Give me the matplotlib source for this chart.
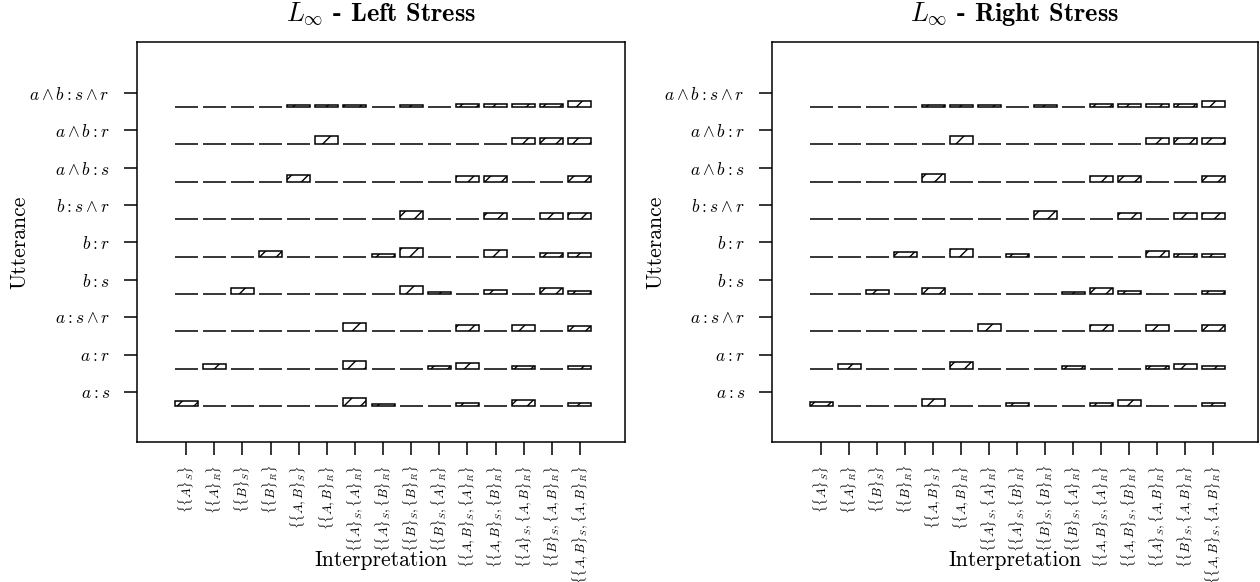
import matplotlib.pyplot as plt
import numpy as np

plt.rcParams['font.family'] = 'cmr10'
plt.rcParams['mathtext.fontset'] = 'cm'
plt.rcParams['axes.formatter.use_mathtext'] = True
plt.rcParams['hatch.linewidth'] = 1.0

# rows bottom to top
utterances = [r'$a:s$', r'$a:r$', r'$a:s\wedge r$',
              r'$b:s$', r'$b:r$', r'$b:s\wedge r$',
              r'$a\wedge b:s$', r'$a\wedge b:r$', r'$a\wedge b:s\wedge r$']

interpretations = [r'$\{\{A\}_S\}$', r'$\{\{A\}_R\}$', r'$\{\{B\}_S\}$', r'$\{\{B\}_R\}$',
                   r'$\{\{A,B\}_S\}$', r'$\{\{A,B\}_R\}$',
                   r'$\{\{A\}_S,\{A\}_R\}$', r'$\{\{A\}_S,\{B\}_R\}$',
                   r'$\{\{B\}_S,\{B\}_R\}$', r'$\{\{B\}_S,\{A\}_R\}$',
                   r'$\{\{A,B\}_S,\{A\}_R\}$', r'$\{\{A,B\}_S,\{B\}_R\}$',
                   r'$\{\{A\}_S,\{A,B\}_R\}$', r'$\{\{B\}_S,\{A,B\}_R\}$',
                   r'$\{\{A,B\}_S,\{A,B\}_R\}$']

# P(interpretation | utterance), one list per utterance
left_stress = [
    [0.19, 0, 0, 0, 0, 0, 0.28, 0.08, 0, 0, 0.12, 0, 0.21, 0, 0.12],
    [0, 0.16, 0, 0, 0, 0, 0.27, 0, 0, 0.08, 0.19, 0, 0.10, 0, 0.09],
    [0, 0, 0, 0, 0, 0, 0.30, 0, 0, 0, 0.22, 0, 0.22, 0, 0.20],
    [0, 0, 0.19, 0, 0, 0, 0, 0, 0.28, 0.08, 0, 0.13, 0, 0.20, 0.10],
    [0, 0, 0, 0.20, 0, 0, 0, 0.09, 0.30, 0, 0, 0.22, 0, 0.12, 0.12],
    [0, 0, 0, 0, 0, 0, 0, 0, 0.30, 0, 0, 0.21, 0, 0.21, 0.21],
    [0, 0, 0, 0, 0.25, 0, 0, 0, 0, 0, 0.21, 0.21, 0, 0, 0.21],
    [0, 0, 0, 0, 0, 0.30, 0, 0, 0, 0, 0, 0, 0.23, 0.23, 0.23],
    [0, 0, 0, 0, 0.08, 0.08, 0.08, 0, 0.08, 0, 0.10, 0.10, 0.10, 0.10, 0.21],
]

right_stress = [
    [0.14, 0, 0, 0, 0.23, 0, 0, 0.10, 0, 0, 0.12, 0.20, 0, 0, 0.12],
    [0, 0.15, 0, 0, 0, 0.23, 0, 0, 0, 0.08, 0, 0, 0.10, 0.15, 0.10],
    [0, 0, 0, 0, 0, 0, 0.26, 0, 0, 0, 0.21, 0, 0.21, 0, 0.21],
    [0, 0, 0.14, 0, 0.22, 0, 0, 0, 0, 0.08, 0.20, 0.10, 0, 0, 0.10],
    [0, 0, 0, 0.16, 0, 0.26, 0, 0.08, 0, 0, 0, 0, 0.19, 0.10, 0.10],
    [0, 0, 0, 0, 0, 0, 0, 0, 0.30, 0, 0, 0.20, 0, 0.20, 0.20],
    [0, 0, 0, 0, 0.26, 0, 0, 0, 0, 0, 0.21, 0.21, 0, 0, 0.21],
    [0, 0, 0, 0, 0, 0.30, 0, 0, 0, 0, 0, 0, 0.22, 0.22, 0.22],
    [0, 0, 0, 0, 0.08, 0.08, 0.08, 0, 0.08, 0, 0.10, 0.10, 0.10, 0.09, 0.21],
]


def draw_panel(ax, probs, title):
    probs = np.array(probs)
    xs = np.arange(1, len(interpretations) + 1)
    for i, row in enumerate(probs):
        # each row's bars sit a bit under its tick
        ax.bar(xs, row * 0.775, width=0.82, bottom=i + 1 - 0.38,
               facecolor='white', edgecolor='black', hatch='//', linewidth=1.1)

    ax.set_xlim(-0.75, 16.6)
    ax.set_ylim(-0.34, 10.36)
    ax.set_xticks(xs)
    ax.set_xticklabels(interpretations, rotation=90, fontsize=9.4)
    ax.set_yticks(np.arange(1, len(utterances) + 1))
    ax.set_yticklabels(utterances, fontsize=12.5)
    ax.tick_params(axis='x', direction='out', length=9.5, width=1.1, pad=7)
    ax.tick_params(axis='y', direction='out', length=9.5, width=1.1, pad=10)
    for s in ax.spines.values():
        s.set_linewidth(1.1)

    ax.text(0.5, 1.07, title, transform=ax.transAxes, ha='center', va='center',
            fontsize=19, fontfamily='cmb10')
    ax.text(-0.24, 0.5, 'Utterance', transform=ax.transAxes, rotation=90,
            ha='center', va='center', fontsize=15.5)
    ax.text(0.5, -0.295, 'Interpretation', transform=ax.transAxes,
            ha='center', va='center', fontsize=15.5)


fig = plt.figure(figsize=(12.6, 5.82), dpi=100)
ax1 = fig.add_axes([0.1087, 0.2405, 0.3873, 0.6873])
ax2 = fig.add_axes([0.6127, 0.2405, 0.3857, 0.6873])

draw_panel(ax1, left_stress, r'$L_\infty$ - Left Stress')
draw_panel(ax2, right_stress, r'$L_\infty$ - Right Stress')

fig.savefig('out.png', dpi=100)
